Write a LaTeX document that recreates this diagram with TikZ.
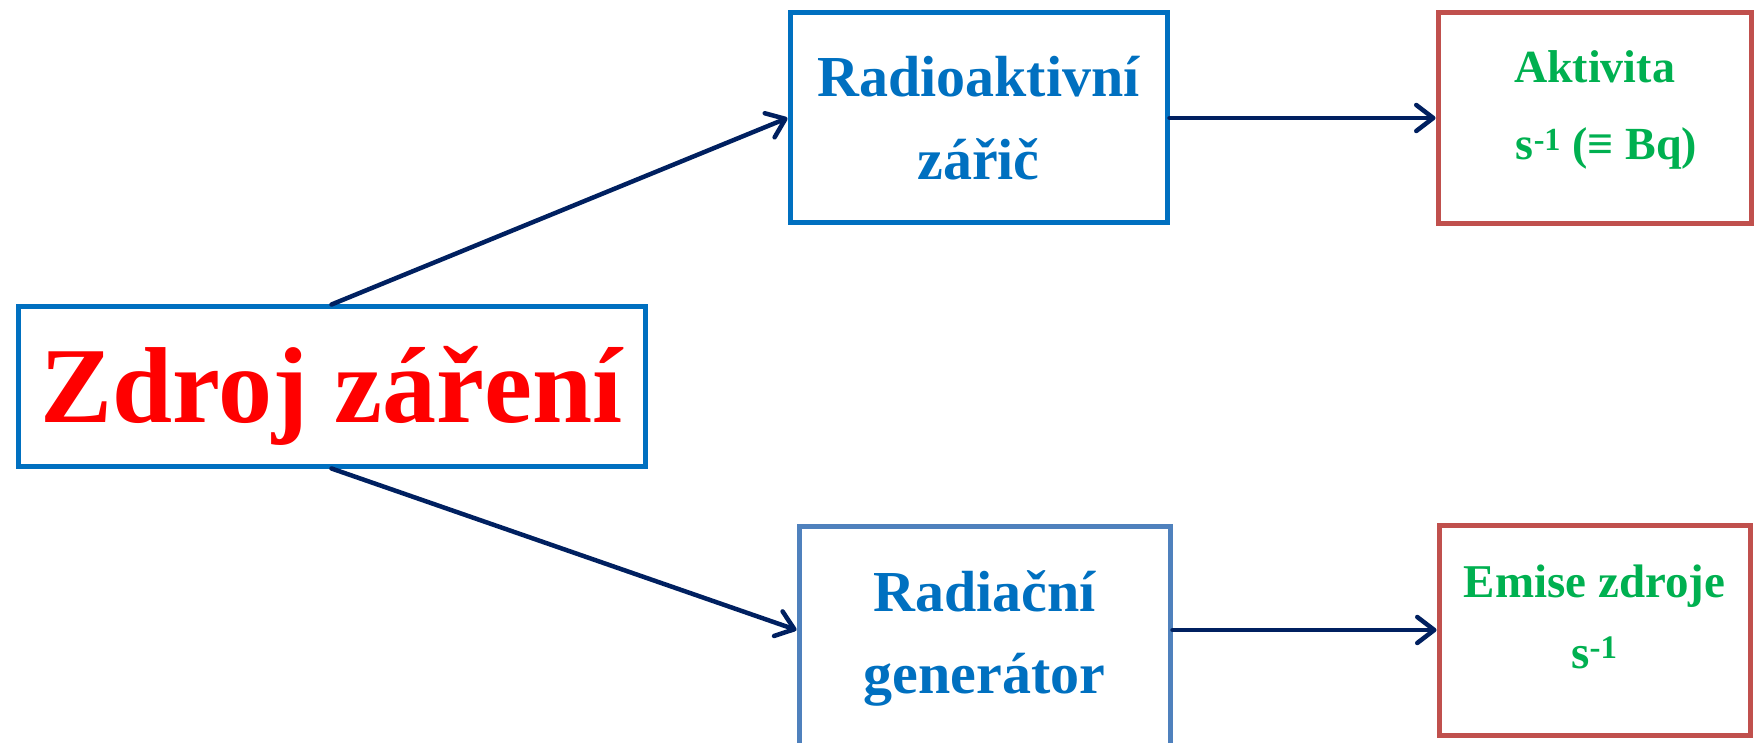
\documentclass[tikz,border=0pt]{standalone}
\usepackage{fontspec}
\setmainfont{Liberation Serif}
\usetikzlibrary{arrows.meta}
\definecolor{boxblue}{HTML}{0070C0}
\definecolor{genblue}{HTML}{4F81BD}
\definecolor{boxred}{HTML}{C0504D}
\definecolor{txtgreen}{HTML}{00B050}
\definecolor{arrownavy}{HTML}{002060}
% invisible rule fixing the height (#1) and depth (#2) of a text line
\newcommand\linestrut[2]{\rule[-#2]{0pt}{\dimexpr#1+#2\relax}}
\begin{document}
\begin{tikzpicture}[x=1pt,y=-1pt,
  frame/.style={draw, line width=5pt, rectangle, inner sep=0pt, align=center},
  bluebox/.style={frame, draw=boxblue, text=boxblue},
  redbox/.style={frame, draw=boxred, text=txtgreen},
  link/.style={draw=arrownavy, line width=4.5pt, line cap=round,
    -{Straight Barb[length=17pt,width=26pt,round]}}]
\useasboundingbox (0,0) rectangle (1756,743);

% source box
\node[frame, draw=boxblue, text=red, minimum width=627pt, minimum height=159pt,
  text height=72pt, text depth=0pt,
  font=\fontsize{108}{120}\selectfont\bfseries] (zdroj) at (331.5,386.5) {Zdroj záření};

% middle column
\node[bluebox, minimum width=377pt, minimum height=210pt,
  font=\fontsize{58}{83}\selectfont\bfseries] (radio) at (978.5,118)
  {\linestrut{58pt}{0pt}Radioaktivní\\zářič\linestrut{0pt}{17pt}};
\node[bluebox, draw=genblue, minimum width=371pt, minimum height=220pt,
  font=\fontsize{58}{82}\selectfont\bfseries] (gen) at (984.5,636)
  {\linestrut{58pt}{0pt}Radiační\\generátor\linestrut{0pt}{26pt}};

% right column
\node[redbox, minimum width=313pt, minimum height=211pt,
  font=\fontsize{46}{77}\selectfont\bfseries] (aktiv) at (1594.5,118)
  {\linestrut{40pt}{0pt}Aktivita\\\hspace*{24pt}s\textsuperscript{-1} (≡ Bq)\linestrut{0pt}{34pt}};
\node[redbox, minimum width=311pt, minimum height=210pt,
  font=\fontsize{47}{71}\selectfont\bfseries] (emise) at (1594.5,630)
  {\linestrut{40pt}{0pt}Emise zdroje\\s\textsuperscript{-1}\linestrut{0pt}{35pt}};

% connectors
\draw[link] (zdroj.north) -- (radio.west);
\draw[link] (zdroj.south) -- (gen.west |- emise.west);
\draw[link] (radio.east) -- (aktiv.west |- radio.east);
\draw[link] (gen.east |- emise.west) -- (emise.west);
\end{tikzpicture}
\end{document}
